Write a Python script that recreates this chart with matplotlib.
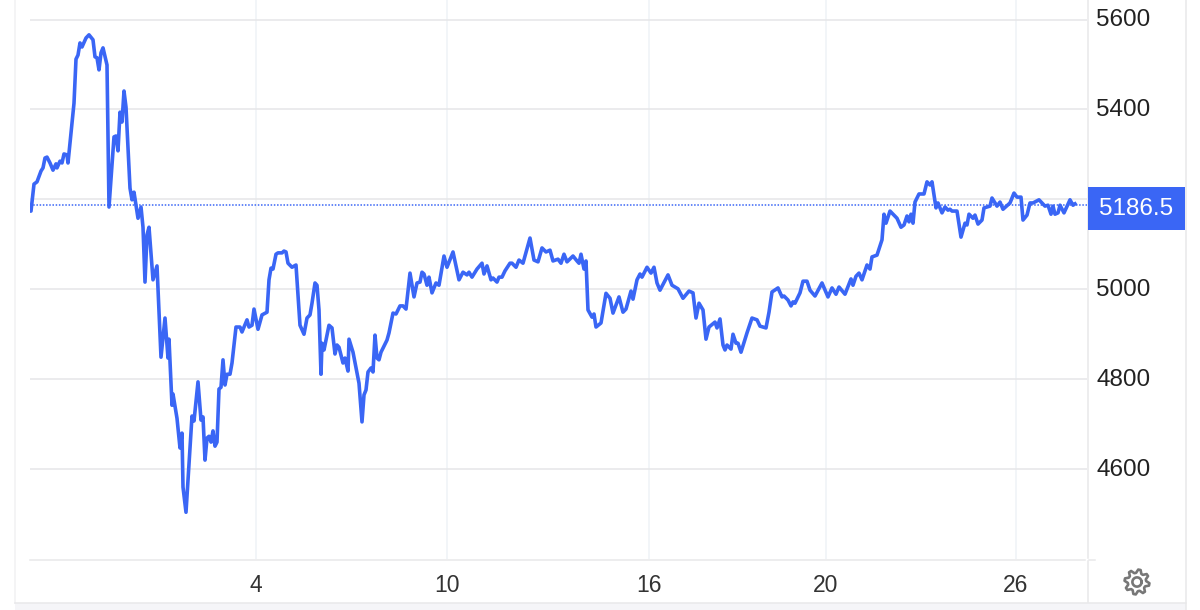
import numpy as np
import matplotlib
matplotlib.use("Agg")
import matplotlib.pyplot as plt
from matplotlib.patches import Rectangle, Polygon
from matplotlib.transforms import ScaledTranslation

plt.rcParams['font.family'] = ['Liberation Sans', 'DejaVu Sans']

sample_pos = [30,31,34,37,41,43,45,47,50,53,56,57,60,62,64,67,68,71,74,76,78,80,82,86,89,93,95,97,99,101,103,107,109,113,114,116,118,120,122,124,126,130,132,134,138,141,143,145,147,149,153,157,
161,165,168,169,172,173,177,180,182,183,186,189,192,194,198,201,203,205,207,209,211,213,215,217,219,221,223,225,227,230,232,236,238,240,242,244,247,249,252,254,258,262,267,269,271,273,276,278,282,284,286,288,292,296,300,304,307,310,312,315,317,319,321,322,324,329,332,335,337,339,343,345,348,349,353,359,362,364,366,368,371,373,375,377,379,381,387,389,393,396,
400,403,406,410,414,417,420,422,424,427,429,432,436,439,444,447,453,459,463,467,469,472,477,482,484,487,491,493,497,499,502,505,510,512,516,519,523,530,534,538,542,546,550,553,558,561,564,567,573,577,579,581,584,586,588,592,594,596,601,
606,610,613,619,623,626,631,633,637,640,642,647,651,654,657,660,668,672,678,683,689,693,696,699,703,706,709,715,717,720,723,725,727,731,733,736,738,741,747,752,757,760,766,769,772,778,
782,784,788,791,793,795,800,803,807,810,815,822,828,832,836,839,845,851,853,856,859,862,867,870,872,877,882,884,886,890,897,901,904,907,909,911,913,915,919,924,927,930,932,936,938,942,945,948,950,952,957,961,965,967,969,973,975,978,982,984,990,992,997,1000,1003,1010,1014,1017,1021,1023,1027,1030,1033,1039,1045,1048,1051,1053,1055,1058,1060,1064,1070,1073,1075]

price = [5174,5174,5234,5239,5263,5270,5292,5294,5281,5265,5279,5270,5285,5281,5301,5299,5281,5348,5414,5512,5521,5548,5539,5559,5566,5555,5517,5515,5488,5526,5537,5499,5183,5310,5339,5341,5308,5394,5372,5441,5405,5225,5199,5216,5158,5183,5138,5016,5121,5138,5021,5052,
4849,4936,4847,4889,4742,4767,4713,4647,4680,4560,4504,4613,4718,4707,4794,4709,4716,4620,4669,4673,4660,4685,4651,4660,4778,4782,4843,4787,4811,4811,4836,4916,4916,4916,4905,4916,4932,4916,4920,4956,4911,4943,4949,5021,5047,5045,5078,5081,5081,5085,5083,5058,5049,5054,4920,4900,4936,4943,4969,5014,5009,4954,4811,4880,4865,4920,4914,4856,4876,4871,4836,4847,4818,4889,4860,4791,4705,4765,4776,4816,4825,4816,4898,4847,4843,4860,4887,4903,4947,4945,
4963,4963,4956,5036,4983,5014,5016,5038,5034,5009,5027,4992,5014,5009,5074,5049,5083,5021,5038,5032,5038,5027,5045,5058,5034,5052,5021,5025,5016,5027,5027,5041,5058,5058,5049,5065,5058,5114,5065,5061,5092,5083,5087,5063,5067,5058,5078,5061,5074,5063,5058,5078,5045,5063,4954,4938,4945,4916,4925,
4991,4980,4947,4983,4949,4956,4996,4978,5021,5034,5027,5049,5036,5049,5014,4998,5032,5009,5001,4980,4996,4992,4936,4969,4954,4889,4916,4927,4914,4934,4876,4865,4876,4867,4900,4880,4880,4860,4903,4936,4932,4918,4914,4949,4994,5003,
4983,4985,4976,4963,4972,4969,4992,5018,5018,4998,4985,5014,4983,5003,4989,5005,4989,5023,5009,5029,5036,5021,5054,5045,5072,5076,5110,5167,5147,5174,5158,5138,5143,5163,5150,5167,5147,5194,5212,5212,5239,5232,5239,5181,5192,5170,5183,5176,5178,5174,5174,5116,5147,5143,5167,5158,5165,5145,5154,5181,5185,5203,5185,5194,5178,5192,5214,5205,5205,5154,5165,5192,5192,5199,5185,5187,5167,5185,5167,5170,5187,5170,5199,5187,5190]

last_price = 5186.5
y_ticks = [4600, 4800, 5000, 5200, 5400, 5600]
y_labels = ['4600', '4800', '5000', '', '5400', '5600']
x_tick_pos = [256, 447, 649, 826, 1016]
x_labels = ['4', '10', '16', '20', '26']

W, H = 1200, 610
BLUE = '#3a66f5'
fig = plt.figure(figsize=(W / 100, H / 100), dpi=100, facecolor='white')
ax = fig.add_axes([30 / W, 1 - 559 / H, (1087 - 30) / W, 559 / H])
ax.set_xlim(30, 1087)
ax.set_ylim(4400, 5643.5)
for s in ax.spines.values():
    s.set_visible(False)

ax.yaxis.tick_right()
ax.set_yticks(y_ticks, y_labels)
ax.set_xticks(x_tick_pos, x_labels)
ax.tick_params(axis='y', length=0, pad=6.5, labelsize=17.5, labelcolor='#222222')
ax.tick_params(axis='x', length=0, pad=10.5, labelsize=16.5, labelcolor='#333333')
ax.grid(axis='y', color='#e6e6e8', lw=1.1, zorder=1)
ax.grid(axis='x', color='#eff2f7', lw=1.1, zorder=1)
ax.set_axisbelow(True)
up = ScaledTranslation(0, 2 / 100, fig.dpi_scale_trans)
for lab in ax.get_yticklabels():
    lab.set_transform(lab.get_transform() + up)

ax.axhline(last_price, color=BLUE, lw=1.1, ls=(0, (1, 1.1)), zorder=2)
ax.plot(sample_pos, price, color=BLUE, lw=2.6, solid_joinstyle='round', zorder=3)

def X(x): return x / W
def Y(y): return 1 - y / H
tf = fig.transFigure
frame = '#e8e8ea'
fig.add_artist(Rectangle((X(15), 0), X(1186) - X(15), Y(603), transform=tf, fc='#f5f5f8', ec='none', zorder=0))
fig.add_artist(plt.Line2D([X(15), X(15)], [Y(0), Y(603)], color='#f1f1f3', lw=1.1, transform=tf))
fig.add_artist(plt.Line2D([X(1186), X(1186)], [Y(0), Y(610)], color=frame, lw=1.1, transform=tf))
fig.add_artist(plt.Line2D([X(1087.5), X(1087.5)], [Y(0), Y(558)], color=frame, lw=1.1, transform=tf))
fig.add_artist(plt.Line2D([X(1087.5), X(1087.5)], [Y(561), Y(602)], color=frame, lw=1.1, transform=tf))
fig.add_artist(plt.Line2D([X(30), X(1085)], [Y(559.5), Y(559.5)], color=frame, lw=1.1, transform=tf))
fig.add_artist(plt.Line2D([X(1089), X(1095)], [Y(559.5), Y(559.5)], color=frame, lw=1.1, transform=tf))
fig.add_artist(plt.Line2D([X(15), X(1186)], [Y(603), Y(603)], color=frame, lw=1.1, transform=tf))

# Last-price badge
fig.add_artist(Rectangle((X(1088), Y(230)), X(1185) - X(1088), Y(187) - Y(230), transform=tf,
                         fc=BLUE, ec='none', zorder=5))
fig.text(X(1136.5), Y(209), f'{last_price:.1f}', color='white', fontsize=17.5,
         ha='center', va='center', zorder=6)

# Settings gear
cx, cy, n = 1137, 582, 8
ang = np.linspace(0, 2 * np.pi, n * 4, endpoint=False) + np.pi / 8 - np.pi / 16 * 1.5
rad = np.tile([12.5, 12.5, 9.2, 9.2], n)
gear = np.column_stack([X(cx + rad * np.cos(ang)), Y(cy + rad * np.sin(ang))])
fig.add_artist(Polygon(gear, closed=True, transform=tf, fc='none', ec='#777777', lw=1.9, joinstyle='round', zorder=6))
th = np.linspace(0, 2 * np.pi, 40)
fig.add_artist(plt.Line2D(X(cx + 4.6 * np.cos(th)), Y(cy + 4.6 * np.sin(th)), color='#777777', lw=1.9, transform=tf, zorder=6))

fig.savefig('out.png', dpi=100, facecolor='white')
